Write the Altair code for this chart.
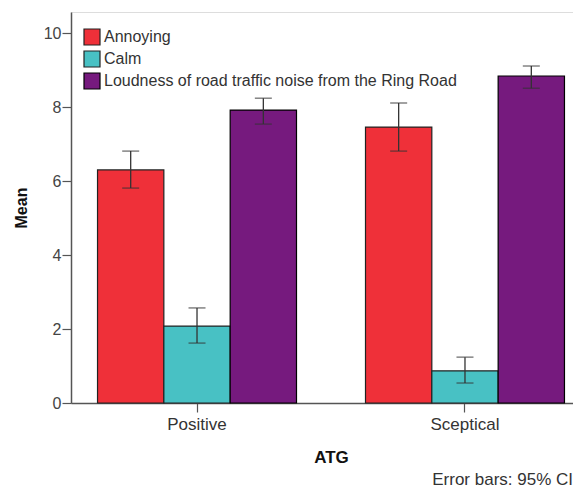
import altair as alt
import pandas as pd

groups = ["Positive", "Positive", "Positive", "Sceptical", "Sceptical", "Sceptical"]
measures = ["Annoying", "Calm", "Loudness of road traffic noise from the Ring Road"] * 2
means = [6.30, 2.08, 7.92, 7.46, 0.87, 8.84]
ci_low = [5.81, 1.62, 7.54, 6.81, 0.54, 8.51]
ci_high = [6.81, 2.57, 8.24, 8.11, 1.24, 9.11]

measure_order = ["Annoying", "Calm", "Loudness of road traffic noise from the Ring Road"]
colors = ["#EF3039", "#48C1C4", "#761A7E"]
strokes = ["#222222", "#222222", "#000000"]

df = pd.DataFrame({"ATG": groups, "Measure": measures, "Mean": means,
                   "Low": ci_low, "High": ci_high})

FONT = "Liberation Sans"

x_enc = alt.X("ATG:N", title="ATG",
              scale=alt.Scale(range=[0, 520], paddingInner=0.2575, paddingOuter=0.099),
              axis=alt.Axis(labelAngle=0, labelFontSize=17, labelColor="#333333", labelFont=FONT,
                            titleFontSize=17, titleFont=FONT, titleColor="#111111", titleFontWeight="bold",
                            titlePadding=17, tickSize=9, tickColor="#555555", tickWidth=1.2,
                            domainColor="#555555", domainWidth=1.5,
                            labelPadding=4, domain=True))
xoff = alt.XOffset("Measure:N", sort=measure_order, scale=alt.Scale(paddingInner=0, paddingOuter=0))

y_scale = alt.Scale(domain=[0, 10.57], nice=False)

bars = alt.Chart(df).mark_bar().encode(
    x=x_enc,
    xOffset=xoff,
    y=alt.Y("Mean:Q", title="Mean", scale=y_scale,
            axis=alt.Axis(values=[0, 2, 4, 6, 8, 10], grid=False, labelFontSize=16, labelColor="#444444",
                          labelFont=FONT, titleFont=FONT, titleFontSize=16, titleFontWeight="bold",
                          titleColor="#111111", titlePadding=14, tickSize=9, tickColor="#555555",
                          tickWidth=1.2, domainColor="#555555", domainWidth=1.5, labelPadding=1)),
    fill=alt.Fill("Measure:N", sort=measure_order,
                  scale=alt.Scale(domain=measure_order, range=colors),
                  legend=alt.Legend(title=None, orient="none", legendX=12, legendY=16,
                                    symbolType="square", symbolSize=256, symbolStrokeColor="#111111",
                                    symbolStrokeWidth=1.5, labelFontSize=16, labelFont=FONT,
                                    labelColor="#333333", rowPadding=0, labelOffset=3, padding=0,
                                    labelLimit=600)),
    stroke=alt.Stroke("Measure:N", sort=measure_order,
                      scale=alt.Scale(domain=measure_order, range=strokes), legend=None),
    strokeWidth=alt.StrokeWidth("Measure:N", sort=measure_order,
                                scale=alt.Scale(domain=measure_order, range=[1.2, 1.2, 2.2]), legend=None),
)

rules = alt.Chart(df).mark_rule(color="#333333", strokeWidth=1.3).encode(
    x=x_enc, xOffset=xoff, y=alt.Y("Low:Q", scale=y_scale), y2="High:Q")
cap_lo = alt.Chart(df).mark_tick(color="#333333", thickness=1.3, size=17).encode(
    x=x_enc, xOffset=xoff, y=alt.Y("Low:Q", scale=y_scale))
cap_hi = alt.Chart(df).mark_tick(color="#333333", thickness=1.3, size=17).encode(
    x=x_enc, xOffset=xoff, y=alt.Y("High:Q", scale=y_scale))

note = alt.Chart(pd.DataFrame({"t": ["Error bars: 95% CI"]})).mark_text(
    align="right", baseline="bottom", fontSize=17, font=FONT, color="#333333").encode(
    text="t:N", x=alt.value(502), y=alt.value(477))

chart = alt.layer(bars, rules, cap_lo, cap_hi, note).properties(
    width=502, height=391,
    autosize=alt.AutoSizeParams(type="none"),
    padding={"left": 63, "top": 4, "right": 0, "bottom": 86},
).configure_view(fill="#F0F0F0", stroke="#888888", strokeWidth=1.5).configure(background="white")

chart.save("out.html", embed_options={"renderer": "svg", "actions": False})
